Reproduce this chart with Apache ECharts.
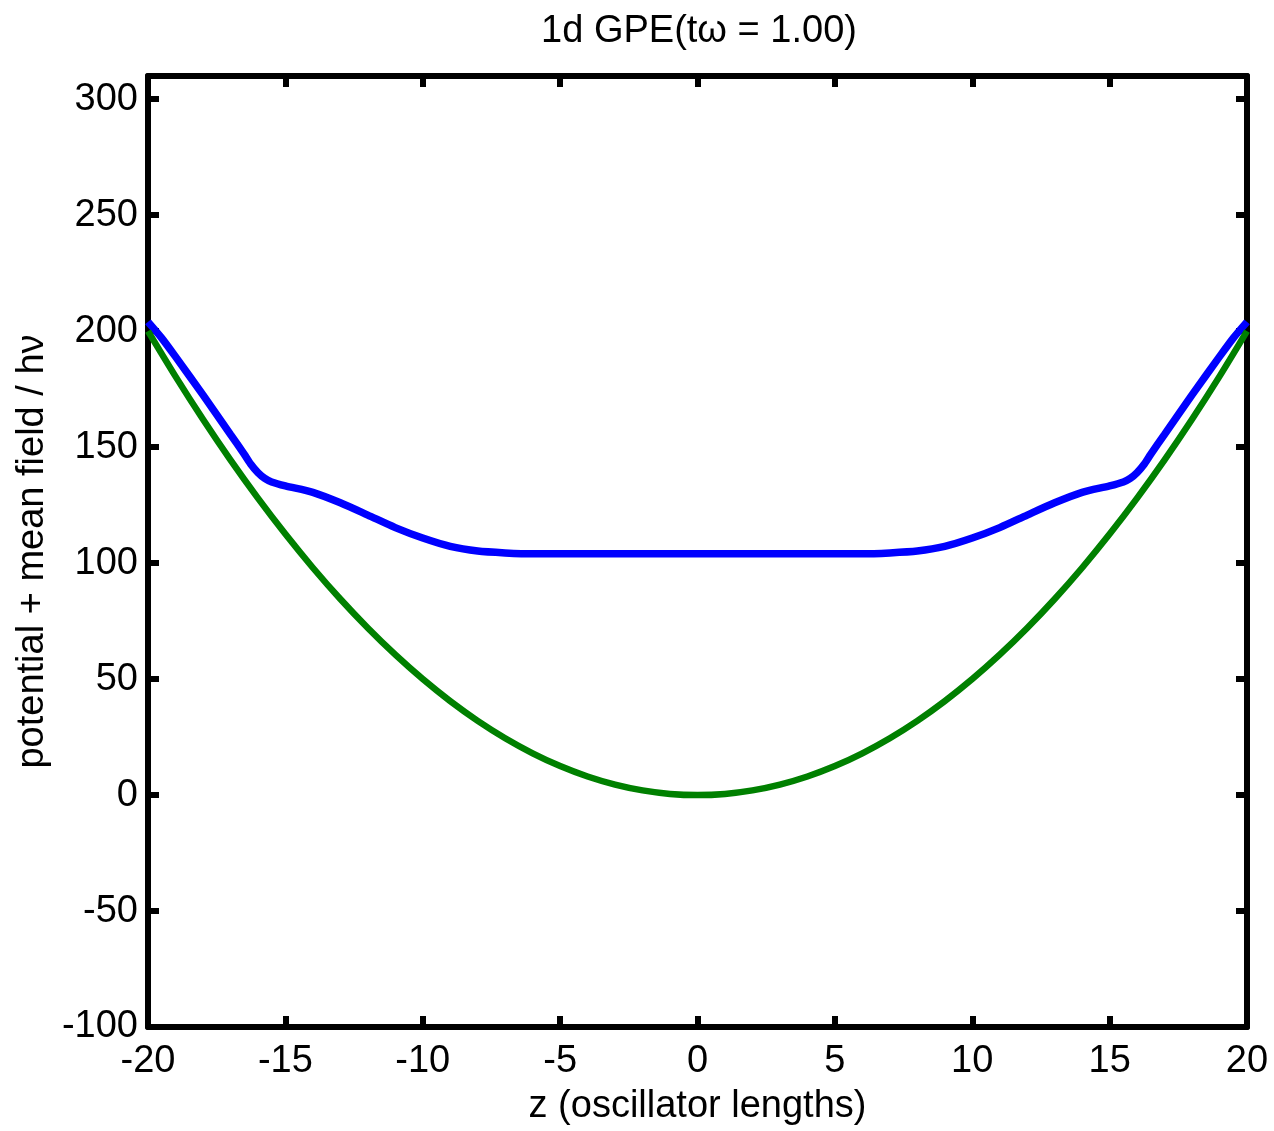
<!DOCTYPE html>
<html>
<head>
<meta charset="utf-8">
<script src="https://cdn.jsdelivr.net/npm/echarts@6/dist/echarts.min.js"></script>
<style>
html,body{margin:0;padding:0;background:#fff;}
#chart{width:1274px;height:1131px;}
</style>
</head>
<body>
<div id="chart"></div>
<script>
var titleText = '1d GPE(t\u03c9 = 1.00)';
var xName = 'z (oscillator lengths)';
var yName = 'potential + mean field / h\u03bd';

// z positions and values for the potential (green)
var zGreen = [-20,-19,-18,-17,-16,-15,-14,-13,-12,-11,-10,-9,-8,-7,-6,-5,-4,-3,-2,-1,0,1,2,3,4,5,6,7,8,9,10,11,12,13,14,15,16,17,18,19,20];
var potential = [200,180.5,162,144.5,128,112.5,98,84.5,72,60.5,50,40.5,32,24.5,18,12.5,8,4.5,2,0.5,0,0.5,2,4.5,8,12.5,18,24.5,32,40.5,50,60.5,72,84.5,98,112.5,128,144.5,162,180.5,200];

// z positions and values for potential + mean field (blue)
var zBlue = [-20,-19.5,-19,-18,-17,-16.5,-16.25,-16,-15.75,-15.5,-15,-14,-13,-12,-11,-10,-9,-8,-7,-6,-5,-4,-3,-2,-1,0,1,2,3,4,5,6,7,8,9,10,11,12,13,14,15,15.5,15.75,16,16.25,16.5,17,18,19,19.5,20];
var totalField = [204,197,189,172.5,155.5,147,142.5,139,136.5,135,133.3,130.5,126,120.7,115.3,110.8,107.2,105.2,104.4,104,104,104,104,104,104,104,104,104,104,104,104,104,104.4,105.2,107.2,110.8,115.3,120.7,126,130.5,133.3,135,136.5,139,142.5,147,155.5,172.5,189,197,204];

var xTicks = [-20,-15,-10,-5,0,5,10,15,20];
var yTicks = [-100,-50,0,50,100,150,200,250,300];

function pairs(xs, ys){ return xs.map(function(x,i){ return [x, ys[i]]; }); }

var FONT = '"Liberation Sans",Arial,sans-serif';
var FS = 38;
var axisLineStyle = {color:'#000', width:6};

var chart = echarts.init(document.getElementById('chart'), null, {renderer:'canvas'});
chart.setOption({
  backgroundColor:'#fff',
  animation:false,
  title:{
    text:titleText, left:694, top:8, textAlign:'center',
    textStyle:{fontFamily:FONT, fontSize:FS, fontWeight:'normal', color:'#000'}
  },
  grid:{left:148, right:27, top:76, bottom:104, containLabel:false, outerBoundsMode:'none'},
  xAxis:[{
    type:'value', min:-20, max:20, interval:5, position:'bottom',
    name:xName, nameLocation:'middle', nameGap:61,
    nameTextStyle:{fontFamily:FONT, fontSize:FS, color:'#000'},
    axisLine:{show:true, onZero:false, lineStyle:axisLineStyle},
    axisTick:{show:true, inside:true, length:11, lineStyle:{color:'#000', width:6}},
    axisLabel:{fontFamily:FONT, fontSize:FS, color:'#000', margin:16,
      formatter:function(v){ return xTicks.indexOf(v) >= 0 ? String(v) : ''; }},
    splitLine:{show:false}
  },{
    type:'value', min:-20, max:20, interval:5, position:'top',
    axisLine:{show:true, onZero:false, lineStyle:axisLineStyle},
    axisTick:{show:true, inside:true, length:11, lineStyle:{color:'#000', width:6}},
    axisLabel:{show:false}, splitLine:{show:false}
  }],
  yAxis:[{
    type:'value', min:-100, max:310, interval:50, position:'left',
    name:yName, nameLocation:'middle', nameGap:94,
    nameTextStyle:{fontFamily:FONT, fontSize:FS, color:'#000'},
    axisLine:{show:true, onZero:false, lineStyle:axisLineStyle},
    axisTick:{show:true, inside:true, length:11, lineStyle:{color:'#000', width:6}},
    axisLabel:{fontFamily:FONT, fontSize:FS, color:'#000', margin:10,
      formatter:function(v){ return yTicks.indexOf(v) >= 0 ? String(v) : ''; }},
    splitLine:{show:false}
  },{
    type:'value', min:-100, max:310, interval:50, position:'right',
    axisLine:{show:true, onZero:false, lineStyle:axisLineStyle},
    axisTick:{show:true, inside:true, length:11, lineStyle:{color:'#000', width:6}},
    axisLabel:{show:false}, splitLine:{show:false}
  }],
  series:[{
    type:'line', xAxisIndex:0, yAxisIndex:0, data:pairs(zBlue,totalField),
    showSymbol:false, smooth:0.25, lineStyle:{color:'#0000ff', width:7.5}, z:3
  },{
    type:'line', xAxisIndex:0, yAxisIndex:0, data:pairs(zGreen,potential),
    showSymbol:false, smooth:0.3, lineStyle:{color:'#008000', width:6.5}, z:4
  }]
});
</script>
</body>
</html>
